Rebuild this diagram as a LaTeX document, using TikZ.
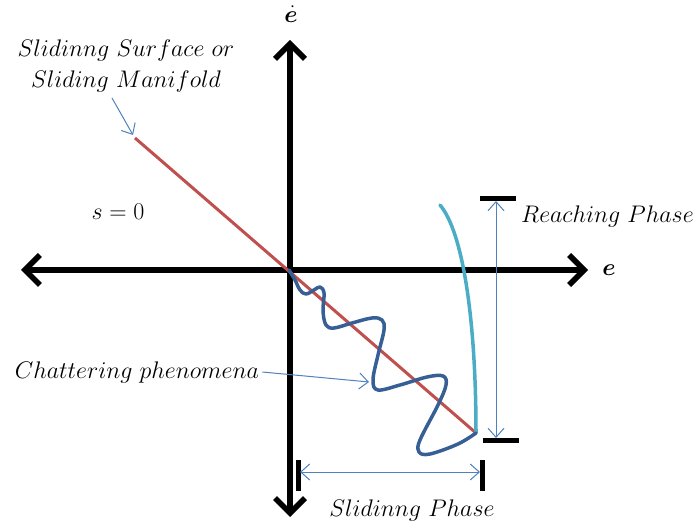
\RequirePackage{fix-cm}
\documentclass[tikz,border=0pt]{standalone}
\usepackage{amsmath,amssymb,bm}
\usetikzlibrary{arrows.meta}

\definecolor{surfred}{RGB}{192,80,77}
\definecolor{reachblue}{RGB}{75,172,198}
\definecolor{chatblue}{RGB}{54,95,150}
\definecolor{dimblue}{RGB}{79,129,189}

\begin{document}
\begin{tikzpicture}[x=1pt,y=-1pt,
    axis/.style={line width=5.5pt,{Straight Barb[length=15pt,width=30pt]}-{Straight Barb[length=15pt,width=30pt]}},
    dimarrow/.style={dimblue,line width=1pt,{Straight Barb[length=9pt,width=16pt]}-{Straight Barb[length=9pt,width=16pt]}},
    pointer/.style={dimblue,line width=1pt,-{Straight Barb[length=9pt,width=16pt]}},
    bar/.style={line width=5pt},
    lab/.style={font=\fontsize{24}{31}\selectfont,inner sep=0pt}]
  \useasboundingbox (0,0) rectangle (693,526);

  % axes
  \coordinate (O) at (290,270);
  \coordinate (xl) at (21,270);
  \coordinate (xr) at (588,270);
  \coordinate (yt) at (290,40);
  \coordinate (yb) at (290,517);
  \draw[axis] (xl) -- (xr);
  \draw[axis] (yb) -- (yt);
  \node[lab] (edot) at (291,14) {$\dot{\bm e}$};
  \node[lab] (elab) at (609,270) {$\bm e$};

  % sliding surface
  \coordinate (s0) at (135,138);
  \coordinate (s1) at (476,433);
  \draw[surfred,line width=3pt] (s0) -- (s1);
  \node[lab] (seq) at (118,212) {$s=0$};

  % reaching curve
  \coordinate (r0) at (440,205);
  \draw[reachblue,line width=3.5pt,line cap=round] (r0) .. controls (463,232) and (476,320) .. (s1);

  % chattering
  \draw[chatblue,line width=3.5pt,line cap=round,line join=round] plot[smooth,tension=0.6] coordinates {
      (289,270) (295,280) (300,290) (306,294) (314,290) (320,287) (324,293) (323,311)
      (326,325) (334,328) (352,323) (372,318) (382,320) (384,330) (378,355) (373,380)
      (378,390) (400,385) (427,377) (443,376) (446,385) (438,405) (420,440) (419,452)
      (430,454) (458,444) (476,433)};

  % reaching phase
  \coordinate (rt) at (498,199);
  \coordinate (rb) at (501,440);
  \draw[bar] ([xshift=-18pt]rt) -- ([xshift=18pt]rt);
  \draw[bar] ([xshift=-18pt]rb) -- ([xshift=18pt]rb);
  \draw[dimarrow] (496,201) -- (496,438);
  \node[lab,anchor=west] (reach) at (521,217) {$Reaching\ Phase$};

  % sliding phase
  \draw[bar] (298,460) -- (298,491);
  \draw[bar] (482,460) -- (482,491);
  \draw[dimarrow] (300,472) -- (480,472);
  \node[lab] (slide) at (412,510) {$Slidinng\ Phase$};

  % labels with pointers
  \node[lab,align=center] (surf) at (126,66) {$Slidinng\ Surface\ or$\\$Sliding\ Manifold$};
  \coordinate (surftip) at (133,135);
  \draw[pointer] (112,98) -- (surftip);
  \node[lab] (chat) at (137,372) {$Chattering\ phenomena$};
  \coordinate (chattip) at (369,382);
  \draw[pointer] (chat.east) ++(3,0) -- (chattip);
\end{tikzpicture}
\end{document}
